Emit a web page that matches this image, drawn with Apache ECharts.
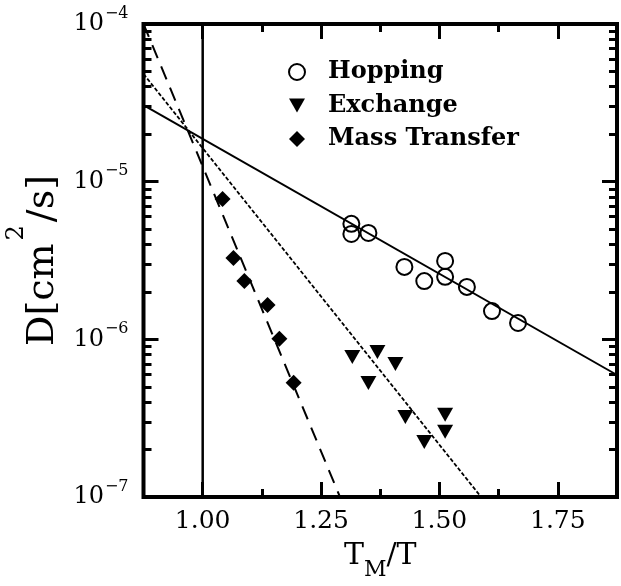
<!DOCTYPE html>
<html>
<head>
<meta charset="utf-8">
<script src="https://cdn.jsdelivr.net/npm/echarts@6/dist/echarts.min.js"></script>
<style>
  html, body { margin: 0; padding: 0; background: #fff; }
  #chart { width: 621px; height: 586px; }
</style>
</head>
<body>
<div id="chart"></div>
<script>
// 数据：T_M/T 与扩散系数 D
const hoppingX = [1.314, 1.314, 1.350, 1.426, 1.468, 1.512, 1.512, 1.558, 1.611, 1.666];
const hoppingY = [5.40e-6, 4.66e-6, 4.73e-6, 2.88e-6, 2.34e-6, 3.14e-6, 2.49e-6, 2.15e-6, 1.51e-6, 1.27e-6];

const exchangeX = [1.316, 1.369, 1.407, 1.350, 1.428, 1.512, 1.512, 1.468];
const exchangeY = [7.73e-7, 8.31e-7, 6.98e-7, 5.29e-7, 3.22e-7, 3.32e-7, 2.59e-7, 2.23e-7];

const massX = [1.042, 1.065, 1.088, 1.137, 1.162, 1.192];
const massY = [7.76e-6, 3.28e-6, 2.34e-6, 1.65e-6, 1.01e-6, 5.30e-7];

// 拟合直线端点
const hoppingFitX = [0.875, 1.875];
const hoppingFitY = [3.06e-5, 5.94e-7];
const exchangeFitX = [0.875, 1.588];
const exchangeFitY = [4.82e-5, 1.0e-7];
const massFitX = [0.875, 1.29];
const massFitY = [1.0e-4, 1.0e-7];
const refLineX = [1.0, 1.0];
const refLineY = [1.0e-7, 1.0e-4];

// 刻度
const xMajorTicks = [1.0, 1.25, 1.5, 1.75];
const xMinorTicks = [1.125, 1.375, 1.625];
const yMajorTicks = [1e-7, 1e-6, 1e-5, 1e-4];
const yMinorTicks = [];
[-7, -6, -5].forEach(e => {
  for (let m = 2; m <= 9; m++) yMinorTicks.push(m * Math.pow(10, e));
});

const legendNames = ['Hopping', 'Exchange', 'Mass Transfer'];

const zip = (xs, ys) => xs.map((x, i) => [x, ys[i]]);

const serif = 'DejaVu Serif';
// 倒三角
const downTriangle = 'path://M0,0L16,0L8,14Z';

const xAxisBase = (position, ticks, len, labels) => ({
  type: 'value',
  min: 0.875,
  max: 1.875,
  position: position,
  axisLine: {show: false},
  splitLine: {show: false},
  axisTick: {
    show: true,
    inside: true,
    length: len,
    customValues: ticks,
    lineStyle: {color: '#000', width: 3}
  },
  axisLabel: labels ? {
    show: true,
    customValues: ticks,
    margin: 12,
    color: '#000',
    fontFamily: serif,
    fontSize: 25,
    formatter: v => v.toFixed(2)
  } : {show: false}
});

const yAxisBase = (position, ticks, len, labels) => ({
  type: 'log',
  logBase: 10,
  min: 1e-7,
  max: 1e-4,
  position: position,
  axisLine: {show: false},
  splitLine: {show: false},
  axisTick: {
    show: true,
    inside: true,
    length: len,
    customValues: ticks,
    lineStyle: {color: '#000', width: 3}
  },
  axisLabel: labels ? {
    show: true,
    customValues: ticks,
    margin: 15,
    formatter: v => '{b|10}{s|−' + Math.round(-Math.log10(v)) + '}',
    rich: {
      b: {fontFamily: serif, fontSize: 24, color: '#000', lineHeight: 24},
      // 上标：不设 lineHeight，用底部 padding 抬高
      s: {fontFamily: serif, fontSize: 16, color: '#000',
          verticalAlign: 'top', padding: [0, 0, 21, 1]}
    }
  } : {show: false}
});

const chart = echarts.init(document.getElementById('chart'), null, {renderer: 'canvas'});

const xMain = xAxisBase('bottom', xMajorTicks, 15, true);
xMain.name = '{a|T}{m|M}{a|/T}';
xMain.nameLocation = 'middle';
xMain.nameGap = 44;
xMain.nameTextStyle = {
  rich: {
    a: {fontFamily: serif, fontSize: 30, color: '#000', lineHeight: 30, verticalAlign: 'top'},
    m: {fontFamily: serif, fontSize: 22, color: '#000',
        verticalAlign: 'top', padding: [18, 0, 0, 0]}
  }
};

const yMain = yAxisBase('left', yMajorTicks, 15, true);
yMain.name = '{a|D[cm}{s|2}{a|/s]}';
yMain.nameLocation = 'middle';
yMain.nameRotate = 90;
yMain.nameGap = 57;
yMain.nameTextStyle = {
  rich: {
    a: {fontFamily: serif, fontSize: 38, color: '#000', lineHeight: 38},
    s: {fontFamily: serif, fontSize: 24, color: '#000',
        verticalAlign: 'top', padding: [0, 3, 54, 3]}
  }
};

const lineSeries = (xs, ys, style) => ({
  type: 'line',
  data: zip(xs, ys),
  showSymbol: false,
  symbol: 'none',
  silent: true,
  z: 1,
  lineStyle: Object.assign({color: '#000', width: 2}, style)
});

const option = {
  backgroundColor: '#fff',
  animation: false,
  grid: {
    left: 143.5,
    right: 4,
    top: 24,
    bottom: 89,
    outerBoundsMode: 'none',
    show: true,
    borderColor: '#000',
    borderWidth: 4,
    backgroundColor: 'transparent'
  },
  legend: {
    data: legendNames,
    orient: 'vertical',
    left: 283,
    top: 55,
    itemWidth: 16,
    itemHeight: 16,
    itemGap: 9.5,
    textStyle: {
      fontFamily: serif,
      fontWeight: 'bold',
      fontSize: 24,
      lineHeight: 24,
      color: '#000',
      padding: [0, 0, 0, 18]
    }
  },
  xAxis: [
    xMain,
    xAxisBase('bottom', xMinorTicks, 8, false),
    xAxisBase('top', xMajorTicks, 15, false),
    xAxisBase('top', xMinorTicks, 8, false)
  ],
  yAxis: [
    yMain,
    yAxisBase('left', yMinorTicks, 8, false),
    yAxisBase('right', yMajorTicks, 15, false),
    yAxisBase('right', yMinorTicks, 8, false)
  ],
  series: [
    lineSeries(refLineX, refLineY, {width: 2.5}),
    lineSeries(hoppingFitX, hoppingFitY, {width: 2}),
    lineSeries(exchangeFitX, exchangeFitY, {width: 1.8, type: [4, 2]}),
    lineSeries(massFitX, massFitY, {width: 2, type: [14, 9]}),
    {
      name: 'Hopping',
      type: 'scatter',
      data: zip(hoppingX, hoppingY),
      symbol: 'circle',
      symbolSize: 16,
      z: 3,
      itemStyle: {color: 'rgba(255,255,255,0)', borderColor: '#000', borderWidth: 2, opacity: 1}
    },
    {
      name: 'Exchange',
      type: 'scatter',
      data: zip(exchangeX, exchangeY),
      symbol: downTriangle,
      symbolSize: [16, 14],
      z: 3,
      itemStyle: {color: '#000', opacity: 1}
    },
    {
      name: 'Mass Transfer',
      type: 'scatter',
      data: zip(massX, massY),
      symbol: 'diamond',
      symbolSize: 16,
      z: 3,
      itemStyle: {color: '#000', opacity: 1}
    }
  ]
};

chart.setOption(option);
</script>
</body>
</html>
